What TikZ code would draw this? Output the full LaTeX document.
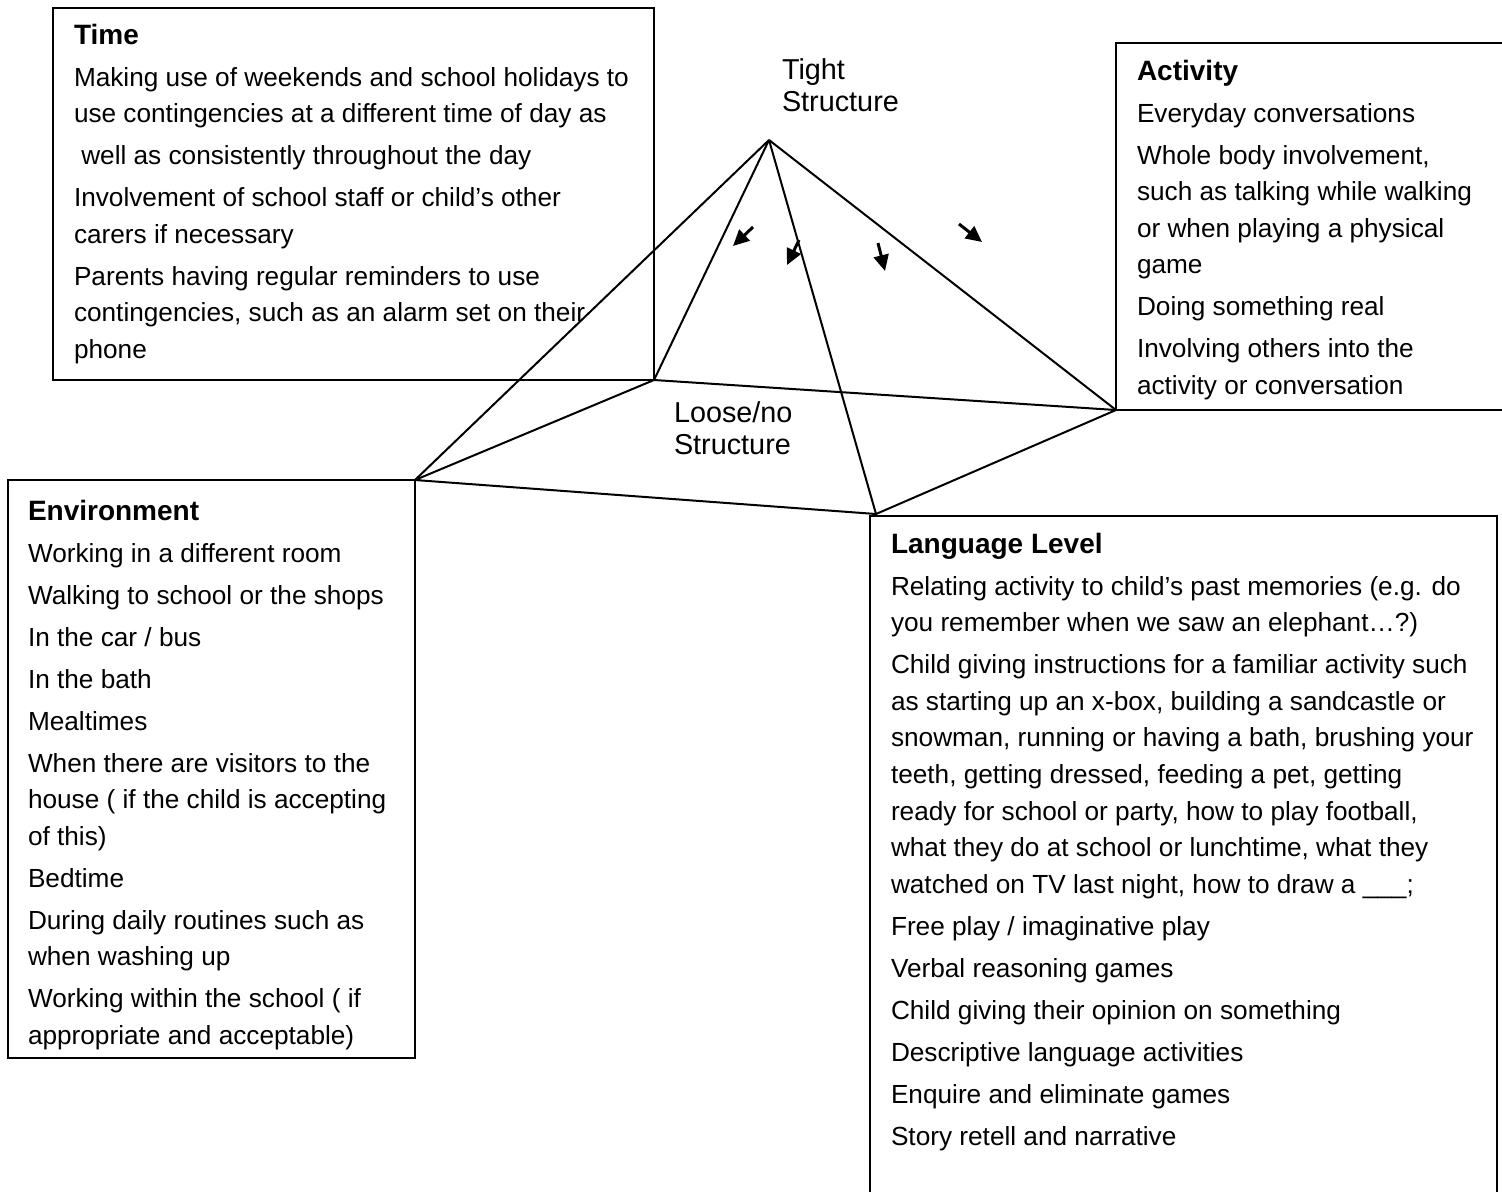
\documentclass[tikz,border=0pt]{standalone}
\usepackage{fontspec}
\setmainfont{Liberation Sans}
\usetikzlibrary{arrows.meta,fit}
\newcommand\boxtext[2]{\parbox[t]{400pt}{\raggedright\setlength{\parskip}{2.7pt}\fontsize{13.1}{18.3}\selectfont
{\fontsize{14}{18.3}\selectfont\bfseries #1\par}#2}}
\newcommand\lbltext[1]{\parbox[t]{100pt}{\raggedright\fontsize{14.4}{16.4}\selectfont #1}}
\begin{document}
\begin{tikzpicture}[x=0.5pt,y=-0.5pt,
  box/.style={draw, line width=1pt, inner sep=0pt, outer sep=0pt},
  txt/.style={anchor=base west, inner sep=0pt, outer sep=0pt},
  edge/.style={line width=1pt, line join=round},
  pointer/.style={line width=1.5pt, -{Triangle[length=8pt,width=7.5pt]}}]
\useasboundingbox (0,0) rectangle (1502,1191);
\fill[white] (0,0) rectangle (1502,1191);
\clip (0,0) rectangle (1502,1191);

% boxes
\node[box, fit={(53,8) (654,380)}] (timebox) {};
\node[box, fit={(1116,43) (1530,410)}] (actbox) {};
\node[box, fit={(8,480) (415,1058)}] (envbox) {};
\node[box, fit={(870,516) (1497,1220)}] (langbox) {};

% texts
\node[txt] (timetxt) at (74,44) {\boxtext{Time}{%
Making use of weekends and school holidays to\\
use contingencies at a different time of day as\par
\ well as consistently throughout the day\par
Involvement of school staff or child’s other\\
carers if necessary\par
Parents having regular reminders to use\\
contingencies, such as an alarm set on their\\
phone}};

\node[txt] (acttxt) at (1137,80) {\boxtext{Activity}{%
Everyday conversations\par
Whole body involvement,\\
such as talking while walking\\
or when playing a physical\\
game\par
Doing something real\par
Involving others into the\\
activity or conversation}};

\node[txt] (envtxt) at (28,520) {\boxtext{Environment}{%
Working in a different room\par
Walking to school or the shops\par
In the car / bus\par
In the bath\par
Mealtimes\par
When there are visitors to the\\
house ( if the child is accepting\\
of this)\par
Bedtime\par
During daily routines such as\\
when washing up\par
Working within the school ( if\\
appropriate and acceptable)}};

\node[txt] (langtxt) at (891,553) {\boxtext{Language Level}{%
Relating activity to child’s past memories (e.g. do\\
you remember when we saw an elephant…?)\par
Child giving instructions for a familiar activity such\\
as starting up an x-box, building a sandcastle or\\
snowman, running or having a bath, brushing your\\
teeth, getting dressed, feeding a pet, getting\\
ready for school or party, how to play football,\\
what they do at school or lunchtime, what they\\
watched on TV last night, how to draw a \_\_\_;\par
Free play / imaginative play\par
Verbal reasoning games\par
Child giving their opinion on something\par
Descriptive language activities\par
Enquire and eliminate games\par
Story retell and narrative}};

% labels
\node[txt] (tight) at (782,79) {\lbltext{Tight\\Structure}};
\node[txt] (loose) at (674,422) {\lbltext{Loose/no\\Structure}};

% pyramid
\coordinate (apex) at (769,140);
\coordinate (vbr) at (876,514);
\draw[edge] (apex) -- (envbox.north east);
\draw[edge] (apex) -- (timebox.south east);
\draw[edge] (apex) -- (vbr);
\draw[edge] (apex) -- (actbox.south west);
\draw[edge] (envbox.north east) -- (timebox.south east) -- (actbox.south west) -- (vbr) -- cycle;

% arrows
\coordinate (a1s) at (753,227); \coordinate (a1e) at (733,246);
\coordinate (a2s) at (799,240); \coordinate (a2e) at (787,265);
\coordinate (a3s) at (878,243); \coordinate (a3e) at (885,271);
\coordinate (a4s) at (959,224); \coordinate (a4e) at (982,242);
\draw[pointer] (a1s) -- (a1e);
\draw[pointer] (a2s) -- (a2e);
\draw[pointer] (a3s) -- (a3e);
\draw[pointer] (a4s) -- (a4e);
\end{tikzpicture}
\end{document}
